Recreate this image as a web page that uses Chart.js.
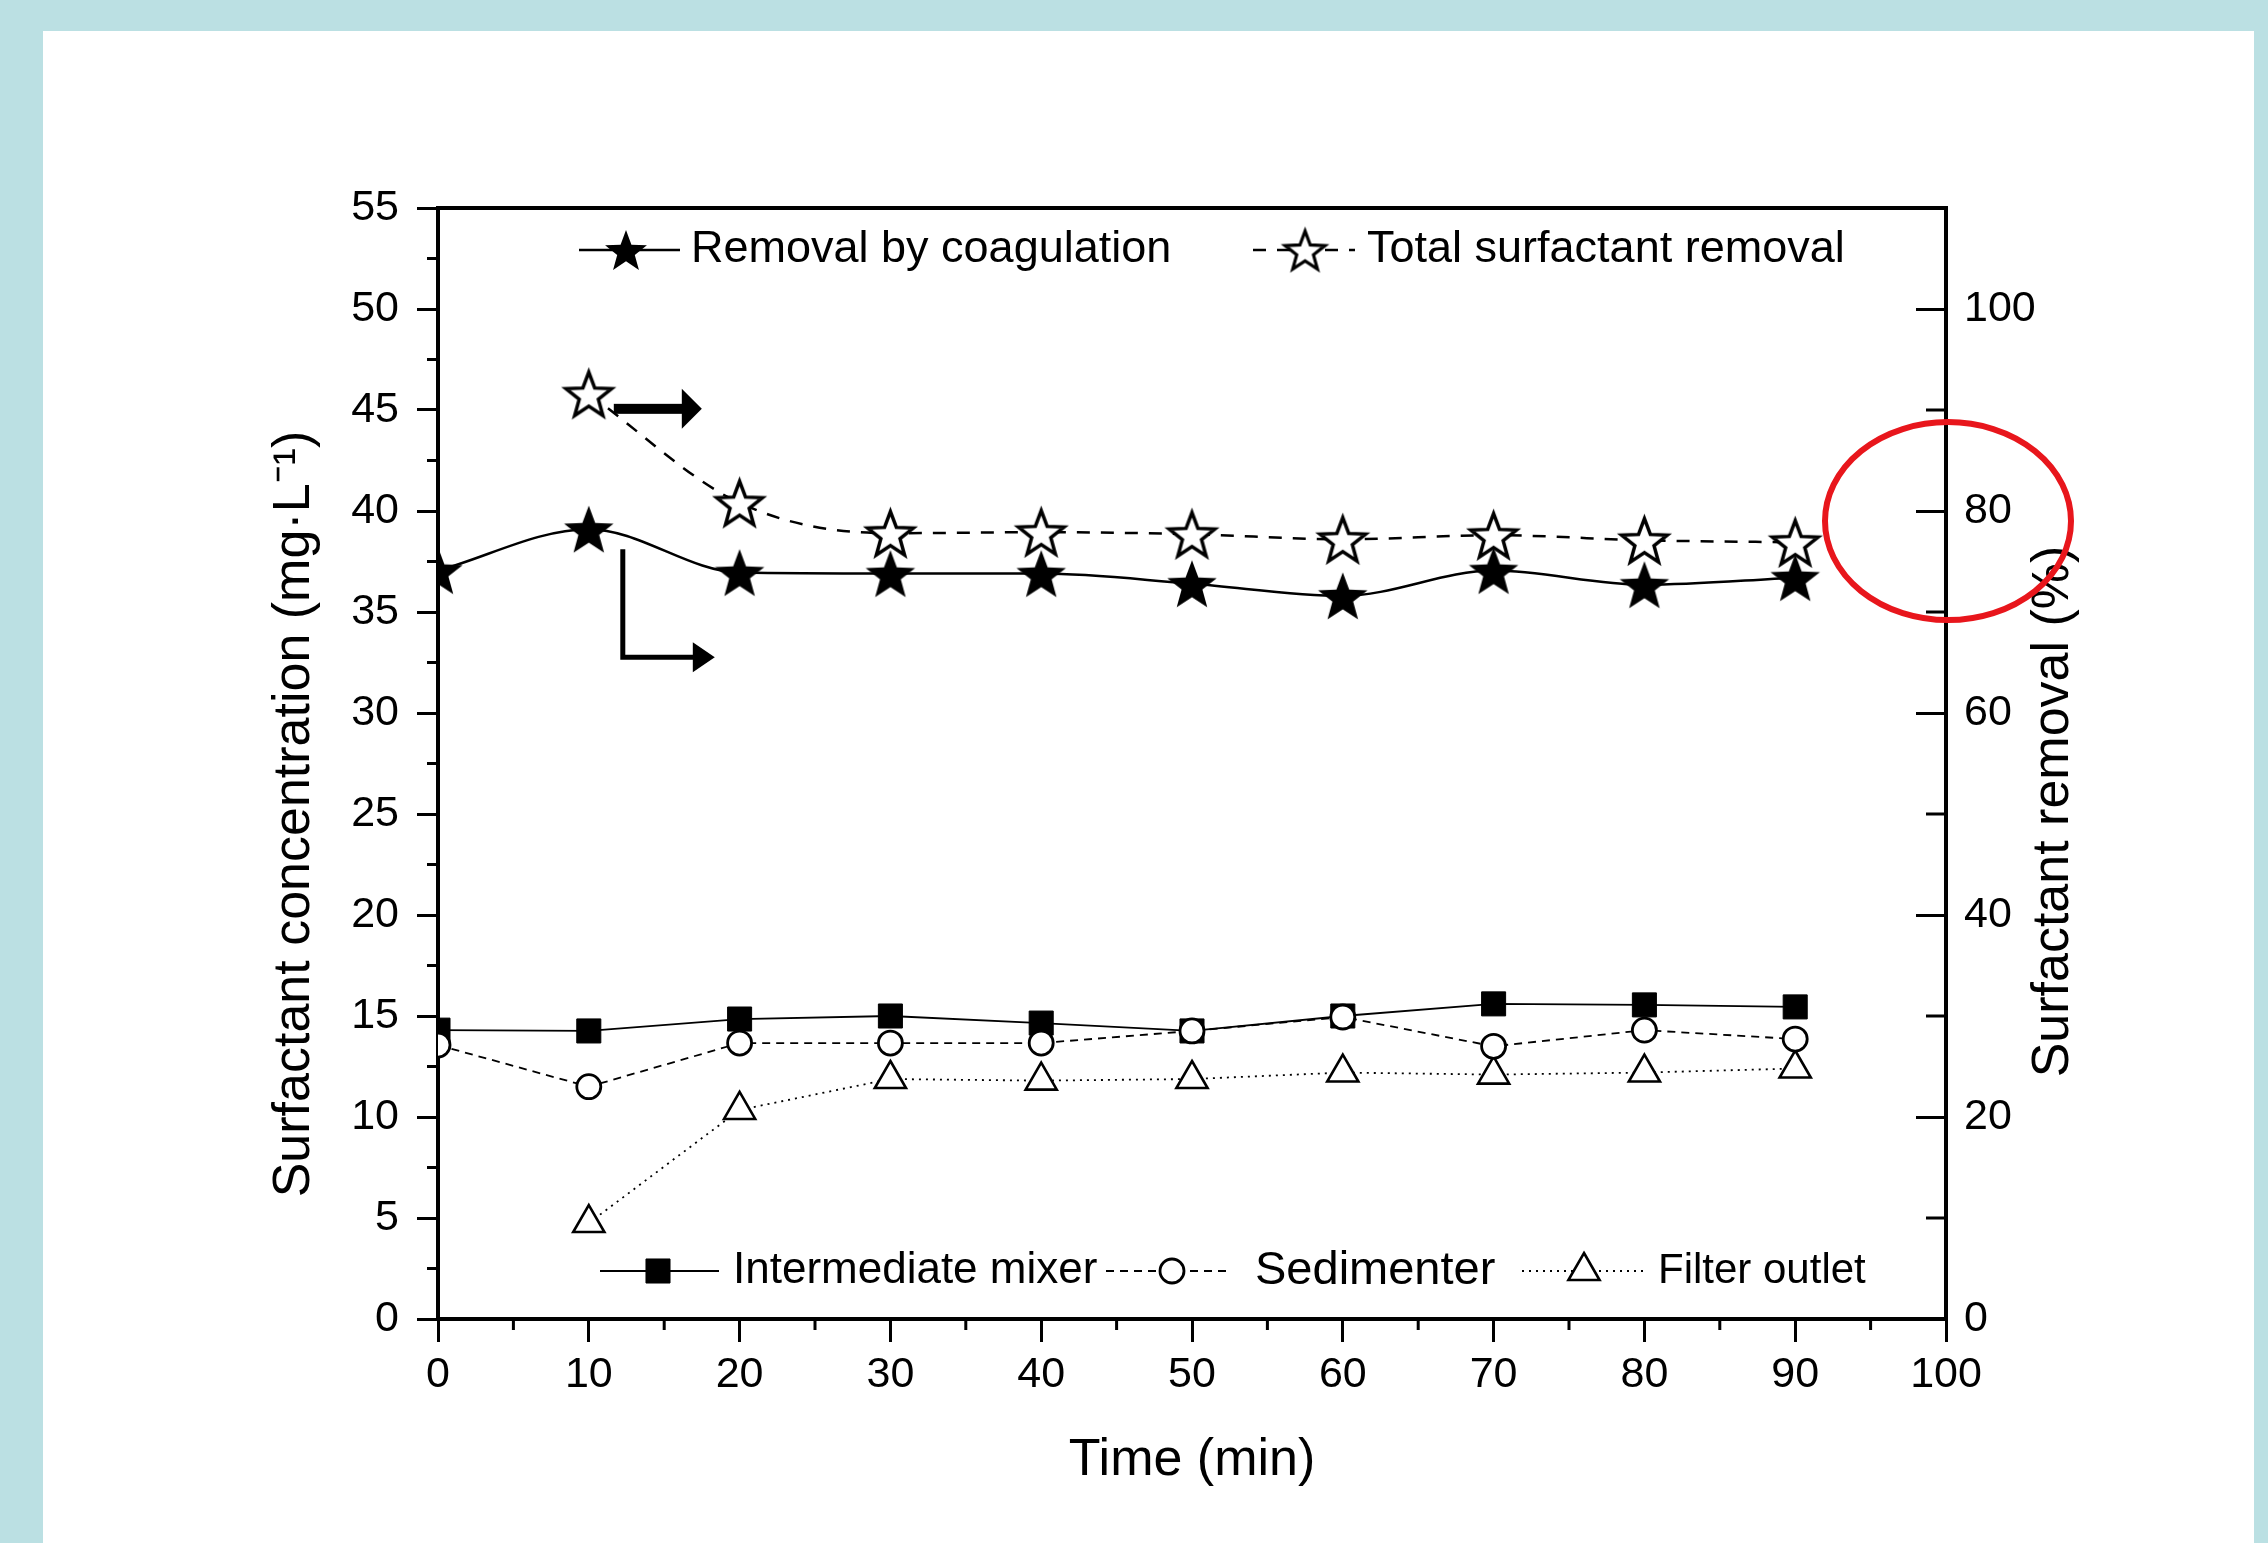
<!DOCTYPE html>
<html><head><meta charset="utf-8">
<script src="https://cdn.jsdelivr.net/npm/chart.js@4/dist/chart.umd.min.js"></script>
<style>
html,body{margin:0;padding:0;background:#bbe0e3;width:2268px;height:1543px;overflow:hidden}
#panel{position:absolute;left:43px;top:31px;width:2211px;height:1512px;background:#fff}
#c{position:absolute;left:0;top:0}
</style></head><body>
<div id="panel"></div>
<canvas id="c" width="2268" height="1543"></canvas>
<script>
// ---- data ----
const timeMin = [0, 10, 20, 30, 40, 50, 60, 70, 80, 90];
const removalByCoagulation = [74.1, 78.2, 73.9, 73.8, 73.8, 72.8, 71.6, 74.1, 72.7, 73.4];      // % (right axis)
const totalSurfactantRemoval = [null, 91.6, 80.8, 77.8, 77.9, 77.7, 77.2, 77.6, 77.1, 76.9];   // % (right axis)
const intermediateMixer = [14.3, 14.26, 14.85, 15.0, 14.65, 14.26, 15.0, 15.6, 15.55, 15.45];  // mg/L
const sedimenter = [13.56, 11.5, 13.66, 13.66, 13.66, 14.26, 14.95, 13.5, 14.3, 13.86];        // mg/L
const filterOutlet = [null, 4.75, 10.35, 11.88, 11.8, 11.88, 12.2, 12.1, 12.2, 12.4];         // mg/L
const xTickValues = [0, 10, 20, 30, 40, 50, 60, 70, 80, 90, 100];
const xMinorTicks = [5, 15, 25, 35, 45, 55, 65, 75, 85, 95];
const leftTickValues = [0, 5, 10, 15, 20, 25, 30, 35, 40, 45, 50, 55];
const leftMinorTicks = [2.5, 7.5, 12.5, 17.5, 22.5, 27.5, 32.5, 37.5, 42.5, 47.5, 52.5];
const rightTickValues = [0, 20, 40, 60, 80, 100];
const rightMinorTicks = [10, 30, 50, 70, 90];
const seriesNames = ['Removal by coagulation', 'Total surfactant removal', 'Intermediate mixer', 'Sedimenter', 'Filter outlet'];
const xTitle = 'Time (min)';
const leftTitle = 'Surfactant concentration (mg\u00b7L\u207b\u00b9)';
const rightTitle = 'Surfactant removal (%)';

const FONT = "'Liberation Sans', Arial, Helvetica, sans-serif";
Chart.defaults.font.family = FONT;
Chart.defaults.color = '#000';

function pts(ys) {
  const out = [];
  timeMin.forEach((t, i) => { if (ys[i] !== null) out.push({x: t, y: ys[i]}); });
  return out;
}

function starCanvas(R, ratio, fill, lw) {
  const pad = lw * 3 + 2;
  const w = Math.ceil(2 * R * Math.sin(2 * Math.PI / 5)) + pad * 2;
  const h = Math.ceil(R * (1 + Math.cos(Math.PI / 5))) + pad * 2;
  const c = document.createElement('canvas');
  c.width = w; c.height = h;
  const g = c.getContext('2d');
  const cx = w / 2, cy = h / 2 + R * (1 - Math.cos(Math.PI / 5)) / 2;
  g.beginPath();
  for (let i = 0; i < 10; i++) {
    const r = i % 2 ? R * ratio : R;
    const a = -Math.PI / 2 + i * Math.PI / 5;
    g.lineTo(cx + r * Math.cos(a), cy + r * Math.sin(a));
  }
  g.closePath();
  g.fillStyle = fill; g.fill();
  if (lw) { g.lineWidth = lw; g.strokeStyle = '#000'; g.lineJoin = 'miter'; g.stroke(); }
  return c;
}
const starFilled = starCanvas(26, 0.42, '#000', 0);
const starOpen = starCanvas(24, 0.42, '#fff', 3.5);
const starFilledSmall = starCanvas(22, 0.42, '#000', 0);
const starOpenSmall = starCanvas(21, 0.42, '#fff', 3.2);

const datasets = [
  {label: seriesNames[0], data: pts(removalByCoagulation), yAxisID: 'y1', order: 0,
   borderColor: '#000', borderWidth: 2.5, cubicInterpolationMode: 'monotone', tension: 0.4,
   pointStyle: starFilled, pointRadius: 25, clip: 0},
  {label: seriesNames[1], data: pts(totalSurfactantRemoval), yAxisID: 'y1', order: 3,
   borderColor: '#000', borderWidth: 2.5, borderDash: [13, 11], cubicInterpolationMode: 'monotone', tension: 0.4,
   pointStyle: starOpen, pointRadius: 25, clip: 0},
  {label: seriesNames[2], data: pts(intermediateMixer), yAxisID: 'y', order: 4,
   borderColor: '#000', borderWidth: 1.8, tension: 0,
   pointStyle: 'rect', pointRadius: 17, pointBackgroundColor: '#000', pointBorderColor: '#000', pointBorderWidth: 1, clip: 0},
  {label: seriesNames[3], data: pts(sedimenter), yAxisID: 'y', order: 1,
   borderColor: '#000', borderWidth: 1.8, borderDash: [8, 6], tension: 0,
   pointStyle: 'circle', pointRadius: 12, pointBackgroundColor: '#fff', pointBorderColor: '#000', pointBorderWidth: 2.8, clip: 0},
  {label: seriesNames[4], data: pts(filterOutlet), yAxisID: 'y', order: 2,
   borderColor: '#000', borderWidth: 1.8, borderDash: [2, 5], tension: 0,
   pointStyle: 'triangle', pointRadius: 18, pointBackgroundColor: '#fff', pointBorderColor: '#000', pointBorderWidth: 2.6, clip: 0}
];

function drawMarker(ctx, ds, x, y) {
  ctx.save();
  const st = ds.pointStyle;
  if (st === starFilled || st === starOpen) {
    const img = st === starFilled ? starFilledSmall : starOpenSmall;
    ctx.drawImage(img, x - img.width / 2, y - img.height / 2);
  } else {
    ctx.fillStyle = ds.pointBackgroundColor;
    ctx.strokeStyle = ds.pointBorderColor;
    ctx.lineWidth = ds.pointBorderWidth;
    const r = ds.pointRadius;
    ctx.beginPath();
    if (st === 'rect') {
      const s = r * Math.SQRT1_2;
      ctx.rect(x - s, y - s, 2 * s, 2 * s);
    } else if (st === 'circle') {
      ctx.arc(x, y, r, 0, Math.PI * 2);
    } else if (st === 'triangle') {
      for (let k = 0; k < 3; k++) {
        const a = k * 2 * Math.PI / 3;
        ctx.lineTo(x + Math.sin(a) * r, y - Math.cos(a) * r);
      }
      ctx.closePath();
    }
    ctx.fill(); ctx.stroke();
  }
  ctx.restore();
}

const annotPlugin = {
  id: 'annot',
  afterDraw(chart) {
    const ctx = chart.ctx;
    const ca = chart.chartArea;
    const xs = chart.scales.x, ys = chart.scales.y, y1 = chart.scales.y1;
    ctx.save();
    // minor ticks
    ctx.strokeStyle = '#000'; ctx.lineWidth = 3;
    ctx.beginPath();
    xMinorTicks.forEach(v => { const p = xs.getPixelForValue(v); ctx.moveTo(p, ca.bottom); ctx.lineTo(p, ca.bottom + 11); });
    leftMinorTicks.forEach(v => { const p = ys.getPixelForValue(v); ctx.moveTo(ca.left, p); ctx.lineTo(ca.left - 11, p); });
    rightMinorTicks.forEach(v => { const p = y1.getPixelForValue(v); ctx.moveTo(ca.right, p); ctx.lineTo(ca.right - 20, p); });
    ctx.stroke();

    // right axis title (reads bottom-to-top)
    ctx.save();
    ctx.translate(ca.right + 108, (ca.top + ca.bottom) / 2 + 48);
    ctx.rotate(-Math.PI / 2);
    ctx.fillStyle = '#000';
    ctx.font = '52px ' + FONT;
    ctx.textAlign = 'center'; ctx.textBaseline = 'middle';
    ctx.fillText(rightTitle, 0, 0);
    ctx.restore();

    // in-plot legends
    const L = ca.left, T = ca.top, B = ca.bottom;
    const items = [
      {ds: 0, y: T + 42, x0: L + 141, x1: L + 242, mx: L + 188, tx: L + 253, fs: 45},
      {ds: 1, y: T + 42, x0: L + 815, x1: L + 917, mx: L + 867, tx: L + 929, fs: 45},
      {ds: 2, y: B - 48, x0: L + 162, x1: L + 281, mx: L + 220, tx: L + 295, fs: 44},
      {ds: 3, y: B - 48, x0: L + 668, x1: L + 791, mx: L + 734, tx: L + 817, fs: 47},
      {ds: 4, y: B - 48, x0: L + 1084, x1: L + 1207, mx: L + 1146, tx: L + 1220, fs: 42}
    ];
    items.forEach(it => {
      const ds = chart.data.datasets[it.ds];
      ctx.save();
      ctx.strokeStyle = '#000';
      ctx.lineWidth = ds.borderWidth;
      ctx.setLineDash(ds.borderDash || []);
      ctx.beginPath(); ctx.moveTo(it.x0, it.y); ctx.lineTo(it.x1, it.y); ctx.stroke();
      ctx.setLineDash([]);
      ctx.restore();
      drawMarker(ctx, ds, it.mx, it.y);
      ctx.fillStyle = '#000';
      ctx.font = it.fs + 'px ' + FONT;
      ctx.textAlign = 'left'; ctx.textBaseline = 'middle';
      ctx.fillText(ds.label, it.tx, it.y);
    });

    // arrows pointing to the right axis
    const tp = chart.getDatasetMeta(1).data[0];   // total removal at t=10
    const cp = chart.getDatasetMeta(0).data[1];   // coagulation at t=10
    ctx.fillStyle = '#000'; ctx.strokeStyle = '#000';
    let ax = tp.x + 25, ay = tp.y + 15;
    ctx.fillRect(ax, ay - 5, 70, 10);
    ctx.beginPath(); ctx.moveTo(ax + 68, ay - 20); ctx.lineTo(ax + 88, ay); ctx.lineTo(ax + 68, ay + 20); ctx.closePath(); ctx.fill();
    const lx = cp.x + 34, ly0 = cp.y + 20, ly1 = cp.y + 128;
    ctx.lineWidth = 5; ctx.lineCap = 'butt';
    ctx.beginPath(); ctx.moveTo(lx, ly0); ctx.lineTo(lx, ly1); ctx.lineTo(lx + 72, ly1); ctx.stroke();
    ctx.beginPath(); ctx.moveTo(lx + 70, ly1 - 15); ctx.lineTo(lx + 92, ly1); ctx.lineTo(lx + 70, ly1 + 15); ctx.closePath(); ctx.fill();

    // red ellipse around the right axis 80 % label
    ctx.strokeStyle = '#e8161c'; ctx.lineWidth = 6;
    ctx.beginPath();
    ctx.ellipse(ca.right + 2, y1.getPixelForValue(79), 123, 99, 0, 0, Math.PI * 2);
    ctx.stroke();
    ctx.restore();
  }
};

const tickFont = {size: 43, family: FONT};
const titleFont = {size: 52, family: FONT};

new Chart(document.getElementById('c'), {
  type: 'line',
  data: {datasets},
  options: {
    responsive: false, animation: false, devicePixelRatio: 1,
    layout: {padding: {top: 208, left: 0, right: 0, bottom: 0}},
    plugins: {legend: {display: false}, tooltip: {enabled: false}},
    elements: {point: {hoverRadius: 0}},
    scales: {
      x: {type: 'linear', position: 'bottom', min: 0, max: 100,
          afterBuildTicks: s => { s.ticks = xTickValues.map(v => ({value: v})); },
          afterFit: s => { s.height = 224; },
          ticks: {font: tickFont, color: '#000', padding: 7, maxRotation: 0, autoSkip: false},
          grid: {display: true, drawOnChartArea: false, drawTicks: true, tickLength: 23, tickWidth: 3, tickColor: '#000'},
          border: {display: true, color: '#000', width: 4},
          title: {display: true, text: xTitle, font: titleFont, color: '#000', padding: {top: 0, bottom: 51}}},
      xTop: {type: 'linear', position: 'top', min: 0, max: 100,
          afterFit: s => { s.height = 0; },
          ticks: {display: false},
          grid: {display: false, drawTicks: false},
          border: {display: true, color: '#000', width: 4}},
      y: {type: 'linear', position: 'left', min: 0, max: 55,
          afterBuildTicks: s => { s.ticks = leftTickValues.map(v => ({value: v})); },
          afterFit: s => { s.width = 438; },
          ticks: {font: tickFont, color: '#000', padding: 18, autoSkip: false},
          grid: {display: true, drawOnChartArea: false, drawTicks: true, tickLength: 21, tickWidth: 3, tickColor: '#000'},
          border: {display: true, color: '#000', width: 4},
          title: {display: true, text: leftTitle + '       ', font: titleFont, color: '#000', padding: {top: 263, bottom: 0}}},
      y1: {type: 'linear', position: 'right', min: 0, max: 110,
          afterBuildTicks: s => { s.ticks = rightTickValues.map(v => ({value: v})); },
          afterFit: s => { s.width = 322; },
          ticks: {font: tickFont, color: '#000', padding: 48, autoSkip: false},
          grid: {display: true, drawOnChartArea: false, drawTicks: true, tickLength: -30, tickWidth: 3, tickColor: '#000'},
          border: {display: true, color: '#000', width: 4},
          title: {display: false}}
    }
  },
  plugins: [annotPlugin]
});
</script>
</body></html>
